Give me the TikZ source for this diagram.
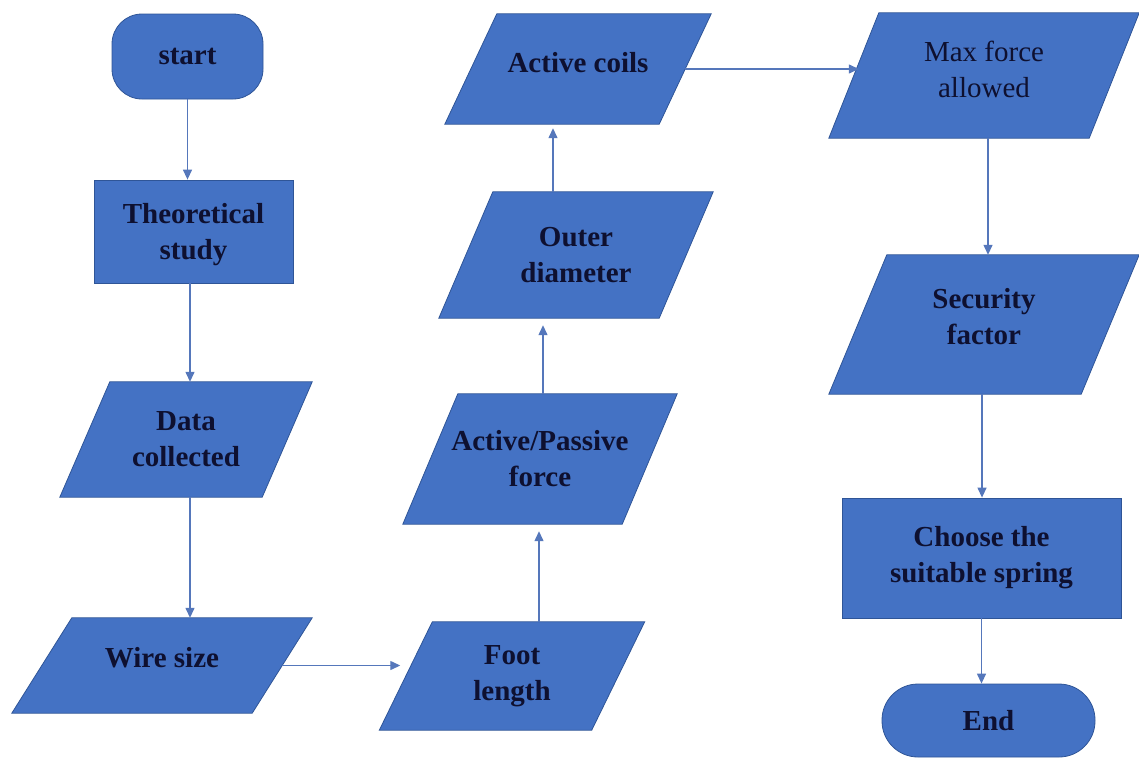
\documentclass[tikz,border=0pt]{standalone}
\usepackage{fontspec}
\setmainfont{Liberation Serif}
\usetikzlibrary{arrows.meta,calc,backgrounds}
\definecolor{boxblue}{HTML}{4472C4}
\definecolor{edgeblue}{HTML}{2F5597}
\definecolor{arrowblue}{HTML}{5577BB}
\definecolor{inkblue}{HTML}{0E1030}
\newcommand{\paraFill}[2]{%
  \fill[boxblue,draw=edgeblue,line width=0.8pt] (#1.south west) -- ($(#1.south east)+(-#2,0)$) -- (#1.north east) -- ($(#1.north west)+(#2,0)$) -- cycle;}
\begin{document}
\begin{tikzpicture}[x=1pt,y=-1pt,
  txt/.style={text=inkblue,font=\fontsize{29}{36}\selectfont\bfseries,align=center,inner sep=0pt},
  plain/.style={text=inkblue,font=\fontsize{29}{36}\selectfont,align=center,inner sep=0pt},
  termbox/.style={txt,fill=boxblue,draw=edgeblue,line width=0.8pt},
  procbox/.style={txt,fill=boxblue,draw=edgeblue,line width=0.8pt},
  conn/.style={draw=arrowblue,line width=1.3pt,-{Triangle[width=9pt,length=10pt]}}
]
\useasboundingbox (0,0) rectangle (1139,758);

% terminators and process boxes
\node[termbox,rounded corners=30pt,minimum width=151pt,minimum height=85pt] (start) at (187.5,56.5) {start};
\node[procbox,minimum width=199pt,minimum height=103pt,text depth=0pt] (theo) at (193.5,231.5) {Theoretical\\study};
\node[procbox,minimum width=279pt,minimum height=120pt] (choose) at (981.5,558) {Choose the\\suitable spring};
\node[termbox,rounded corners=36pt,minimum width=213pt,minimum height=73pt] (endn) at (988.5,720.5) {End};

% parallelogram nodes (shape drawn on background)
\node[txt,minimum width=252pt,minimum height=115pt] (data) at (186,439.5) {Data\\collected};
\node[txt,minimum width=300pt,minimum height=95pt,text depth=16pt] (wire) at (162,665.5) {Wire size};
\node[txt,minimum width=265pt,minimum height=108pt] (foot) at (512,676) {Foot\\length};
\node[txt,minimum width=274pt,minimum height=130pt] (ap) at (540,459) {Active/Passive\\force};
\node[txt,minimum width=274pt,minimum height=126pt] (outer) at (576,255) {Outer\\diameter};
\node[txt,minimum width=266pt,minimum height=110pt,text depth=14pt] (coils) at (578,69) {Active coils};
\node[plain,minimum width=310pt,minimum height=125pt,text depth=12pt] (maxf) at (984,75.5) {Max force\\allowed};
\node[txt,minimum width=310pt,minimum height=139pt,text depth=16pt] (sec) at (984,324.5) {Security\\factor};

\begin{scope}[on background layer]
  \paraFill{data}{50}
  \paraFill{wire}{60}
  \paraFill{foot}{53}
  \paraFill{ap}{55}
  \paraFill{outer}{54}
  \paraFill{coils}{52}
  \paraFill{maxf}{50}
  \paraFill{sec}{58}
\end{scope}

% connector end points
\coordinate (a1) at ($(theo.south)+(-3.5,0)$);
\coordinate (a2) at ($(data.south)+(4,0)$);
\coordinate (a3) at ($(wire.east)+(-30,0)$);
\coordinate (a3e) at ($(foot.west)+(21,0)$);
\coordinate (a4) at ($(foot.north)+(27,0)$);
\coordinate (a5) at ($(ap.north)+(3,0)$);
\coordinate (a6) at ($(outer.north)+(-23,0)$);
\coordinate (a7) at ($(coils.east)+(-26,0)$);
\coordinate (a7e) at ($(maxf.west)+(30,0)$);
\coordinate (a8) at ($(maxf.south)+(4,0)$);
\coordinate (a9) at ($(sec.south)+(-2,0)$);

% connectors
\draw[conn] (start.south) -- (start.south |- theo.north);
\draw[conn] (a1) -- (a1 |- data.north);
\draw[conn] (a2) -- (a2 |- wire.north);
\draw[conn] (a3) -- (a3 -| a3e);
\draw[conn,shorten >=7pt] (a4) -- (a4 |- ap.south);
\draw[conn,shorten >=7pt] (a5) -- (a5 |- outer.south);
\draw[conn,shorten >=4pt] (a6) -- (a6 |- coils.south);
\draw[conn] (a7) -- (a7 -| a7e);
\draw[conn] (a8) -- (a8 |- sec.north);
\draw[conn] (a9) -- (a9 |- choose.north);
\draw[conn] (choose.south) -- (choose.south |- endn.north);
\end{tikzpicture}
\end{document}
